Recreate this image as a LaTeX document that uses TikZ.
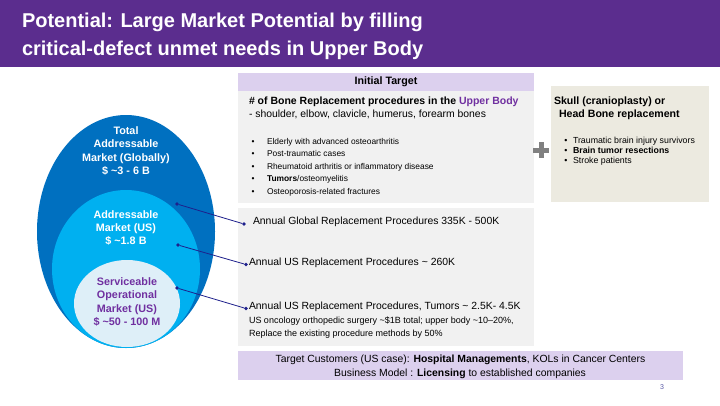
\documentclass[tikz,border=0pt]{standalone}
\usepackage{fontspec}
\setmainfont{Liberation Sans}
\usetikzlibrary{positioning,shapes.geometric}
\definecolor{bandpurple}{RGB}{91,45,142}
\definecolor{lavender}{RGB}{220,208,238}
\definecolor{panelgray}{RGB}{241,241,241}
\definecolor{skullbeige}{RGB}{236,234,224}
\definecolor{tamblue}{RGB}{0,112,192}
\definecolor{samblue}{RGB}{0,176,240}
\definecolor{somblue}{RGB}{222,239,248}
\definecolor{textpurple}{RGB}{112,48,160}
\definecolor{navyline}{RGB}{30,32,140}
\definecolor{plusgray}{RGB}{128,128,128}
\newcommand{\fs}[1]{\fontsize{#1}{#1}\selectfont}

\begin{document}
\begin{tikzpicture}[x=1pt,y=-1pt,
  every node/.style={inner sep=0pt,outer sep=0pt},
  market/.style={ellipse,minimum width=#1},
  mkttxt/.style={font=\fontsize{10.8}{13.3}\selectfont\bfseries,align=center},
  dot/.style={circle,fill=navyline,minimum size=3.6pt},
  link/.style={draw=navyline,line width=0.8pt},
  bodytxt/.style={anchor=base west,font=\fs{10.4}}]
  \useasboundingbox[fill=white] (0,0) rectangle (720,405);
  % title band
  \fill[bandpurple] (0,0) rectangle (720,67);
  \node[anchor=base west,font=\fs{20}\bfseries,text=white] (title1) at (22,27) {Potential: Large Market Potential by filling};
  \node[anchor=base west,font=\fs{20}\bfseries,text=white] (title2) at (22,55) {critical-defect unmet needs in Upper Body};

  % market circles
  \node[market,fill=tamblue,minimum width=178pt,minimum height=233pt] (tam) at (126,231.5) {};
  \node[market,fill=samblue,minimum width=148pt,minimum height=158pt] (sam) at (126,269) {};
  \node[market,fill=somblue,minimum width=106pt,minimum height=87pt] (som) at (127,303.5) {};
  \node[mkttxt,text=white] (tamtxt) at (126,151) {Total\\Addressable\\Market (Globally)\\\$ \textasciitilde3 - 6 B};
  \node[mkttxt,text=white] (samtxt) at (126,228) {Addressable\\Market (US)\\\$ \textasciitilde1.8 B};
  \node[mkttxt,text=textpurple] (somtxt) at (127,302) {Serviceable\\Operational\\Market (US)\\\$ \textasciitilde50 - 100 M};

  % initial target panel
  \fill[lavender] (238,73) rectangle (534,91);
  \fill[panelgray] (238,91) rectangle (534,203);
  \node[font=\fs{10.7}\bfseries] (tgthead) at (386,82) {Initial Target};
  \node[anchor=base west,font=\fs{10.5}\bfseries] (bone) at (249,104) {\# of Bone Replacement procedures in the \textcolor{textpurple}{Upper Body}};
  \node[bodytxt] (bones) at (249,117.5) {- shoulder, elbow, clavicle, humerus, forearm bones};
  \foreach \txt [count=\i] in {Elderly with advanced osteoarthritis,Post-traumatic cases,
      Rheumatoid arthritis or inflammatory disease,\textbf{Tumors}/osteomyelitis,
      Osteoporosis-related fractures}{
    \node[anchor=base,font=\fs{8.4}] (tb\i) at (253,144+12.5*\i-12.5) {\textbullet};
    \node[anchor=base west,font=\fs{8.4}] (t\i) at (267,144+12.5*\i-12.5) {\txt};
  }

  % plus
  \fill[plusgray] (533,147.5) rectangle (549,152.5);
  \fill[plusgray] (538.5,142) rectangle (543.5,158);

  % skull panel
  \fill[skullbeige] (551,86) rectangle (709,202);
  \node[anchor=base west,font=\fs{10.6}\bfseries] (skull1) at (554,104) {Skull (cranioplasty) or};
  \node[anchor=base west,font=\fs{10.6}\bfseries] (skull2) at (559,117) {Head Bone replacement};
  \foreach \txt [count=\i] in {Traumatic brain injury survivors,\textbf{Brain tumor resections},Stroke patients}{
    \node[anchor=base,font=\fs{8.8}] (sb\i) at (566,143.3+10*\i-10) {\textbullet};
    \node[anchor=base west,font=\fs{8.8}] (s\i) at (573,143.3+10*\i-10) {\txt};
  }

  % procedures panel
  \fill[panelgray] (238,208) rectangle (534,346);
  \node[bodytxt] (glob) at (253,224) {Annual Global Replacement Procedures 335K - 500K};
  \node[bodytxt] (us) at (249,265.5) {Annual US Replacement Procedures \textasciitilde{} 260K};
  \node[bodytxt] (tumor) at (249,309) {Annual US Replacement Procedures, Tumors \textasciitilde{} 2.5K- 4.5K};
  \node[anchor=base west,font=\fs{9}] (onco) at (249,323.3) {US oncology orthopedic surgery \textasciitilde\$1B total; upper body \textasciitilde10–20\%,};
  \node[anchor=base west,font=\fs{9}] (repl) at (249,336.7) {Replace the existing procedure methods by 50\%};

  % connectors
  \node[dot] (tamdot) at (177,204) {};
  \node[dot] (samdot) at (178,245) {};
  \node[dot] (somdot) at (177,288) {};
  \node[dot] (globdot) at (244,224) {};
  \node[dot] (usdot) at (246,264.5) {};
  \node[dot] (tumordot) at (246,308.5) {};
  \path[link]
    (tamdot) edge (globdot)
    (samdot) edge (usdot)
    (somdot) edge (tumordot);

  % customers
  \fill[lavender] (238,351) rectangle (683,380);
  \node[anchor=base,font=\fs{10.4}] (cust) at (460.5,362.7) {Target Customers (US case): \textbf{Hospital Managements}, KOLs in Cancer Centers};
  \node[anchor=base,font=\fs{10.4}] (biz) at (460,376.5) {Business Model : \textbf{Licensing} to established companies};
  \node[anchor=base,font=\fs{7},text=plusgray!70!blue] (page) at (662,389) {3};
\end{tikzpicture}
\end{document}
